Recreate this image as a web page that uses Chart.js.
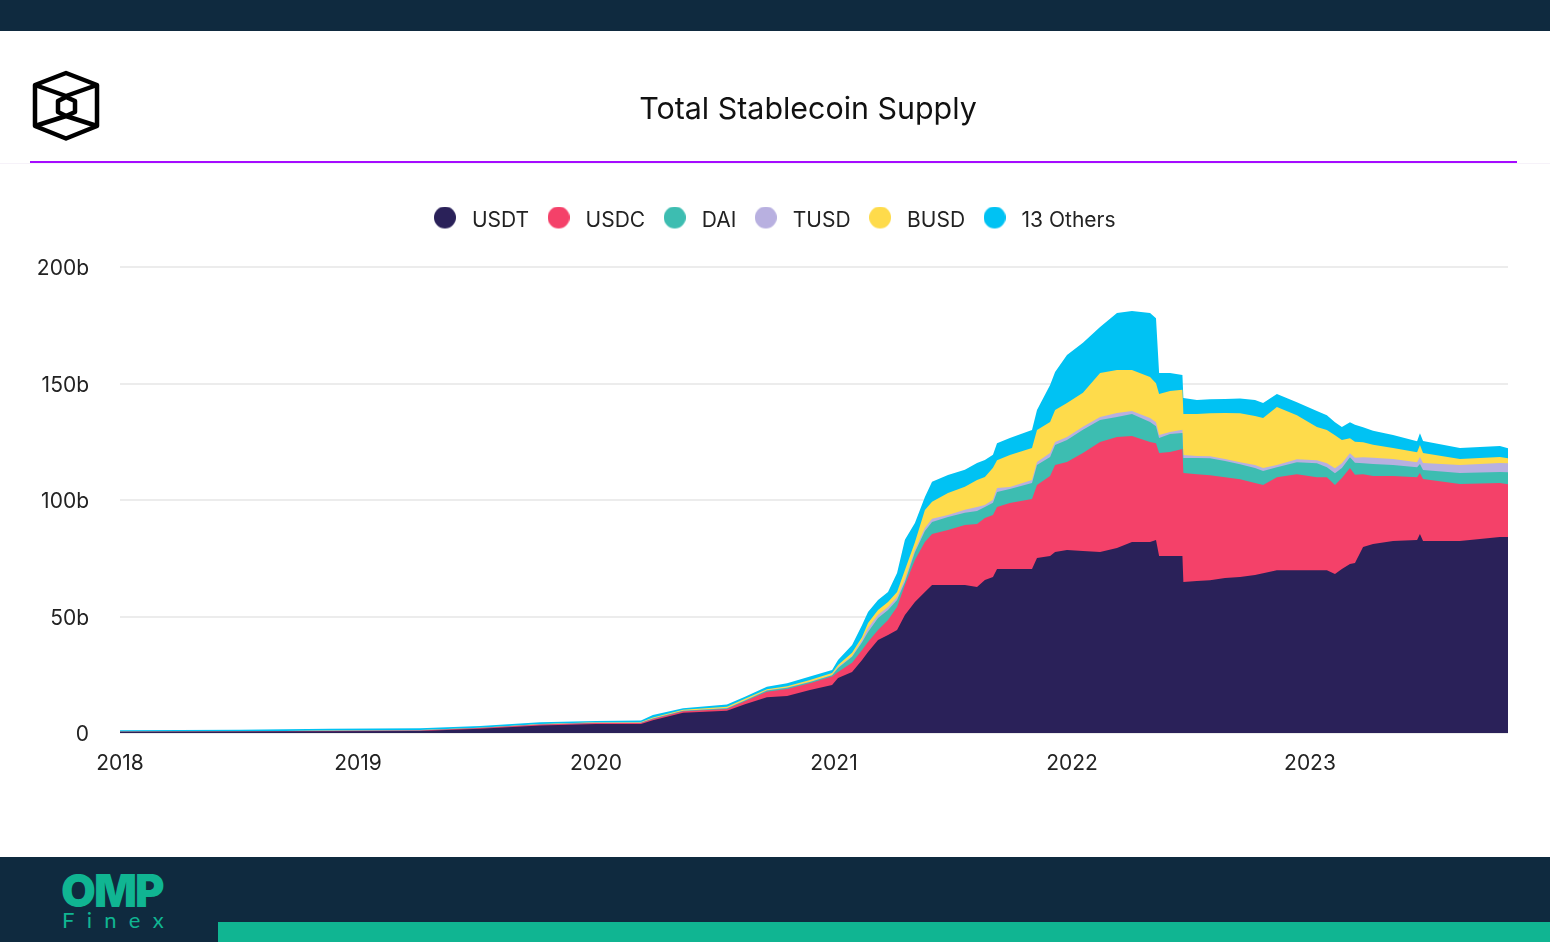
<!DOCTYPE html>
<html>
<head>
<meta charset="utf-8">
<script src="https://cdn.jsdelivr.net/npm/chart.js@4"></script>
<style>
  html, body { margin: 0; padding: 0; background: #fff; }
  #page { position: relative; width: 1550px; height: 942px; overflow: hidden; font-family: Inter, sans-serif; }
  #topBar { position: absolute; left: 0; top: 0; width: 1550px; height: 31px; background: #0f2a3f; }
  #title { position: absolute; left: 0; top: 88px; width: 1616px; text-align: center; font-size: 30.4px; line-height: 40px; color: #111; }
  #faint { position: absolute; left: 0; top: 163px; width: 1550px; height: 1px; background: #f6f2f9; }
  #rule { position: absolute; left: 30px; top: 161px; width: 1487px; height: 2px; background: #a50bff; }
  #logo { position: absolute; left: 25px; top: 64px; }
  #footer { position: absolute; left: 0; top: 857px; width: 1550px; height: 85px; background: #0f2a3f; }
  #band { position: absolute; left: 218px; top: 65px; width: 1332px; height: 20px; background: #10b592; }
  #omp { position: absolute; left: 61px; top: 7px; font-family: Inter, sans-serif; font-weight: 900; font-size: 45px; line-height: 54px; letter-spacing: -2px; color: #10b592; }
  #finex { position: absolute; left: 62px; top: 51px; font-family: Lato, sans-serif; font-weight: 400; font-size: 22px; line-height: 24px; letter-spacing: 12.3px; color: #10b592; }
  #chartWrap { position: absolute; left: 0; top: 0; width: 1550px; height: 942px; }
</style>
</head>
<body>
<div id="page">
  <div id="chartWrap"><canvas id="supplyChart" width="1550" height="942"></canvas></div>
  <div id="topBar"></div>
  <svg id="logo" width="82" height="84" viewBox="25 64 82 84" fill="none" stroke="#000" stroke-width="4.5" stroke-linejoin="round">
    <path d="M66 73 L97 85 L97 126 L66 138.5 L35 126 L35 85 Z"/>
    <path d="M35 85 L66 96 L97 85"/>
    <path d="M35 126 L66 116 L97 126"/>
    <path d="M66 97 L75 101 L75 112 L66 116 L58 112 L58 101 Z"/>
  </svg>
  <div id="title">Total Stablecoin Supply</div>
  <div id="faint"></div>
  <div id="rule"></div>
  <div id="footer">
    <div id="omp">OMP</div>
    <div id="finex">Finex</div>
    <div id="band"></div>
  </div>
</div>
<script>
// --- values, in billions ---
const dates = [2018.000, 2018.504, 2018.882, 2019.261, 2019.513, 2019.765, 2020.000, 2020.189,
  2020.239, 2020.366, 2020.550, 2020.626, 2020.718, 2020.803, 2020.899, 2020.992,
  2021.017, 2021.076, 2021.118, 2021.143, 2021.185, 2021.227, 2021.265, 2021.298,
  2021.340, 2021.382, 2021.412, 2021.479, 2021.550, 2021.601, 2021.634, 2021.668,
  2021.685, 2021.739, 2021.832, 2021.853, 2021.908, 2021.929, 2021.979, 2022.046,
  2022.118, 2022.189, 2022.252, 2022.328, 2022.353, 2022.366, 2022.412, 2022.464,
  2022.468, 2022.525, 2022.580, 2022.643, 2022.706, 2022.769, 2022.803, 2022.861,
  2022.945, 2023.029, 2023.071, 2023.105, 2023.134, 2023.168, 2023.189, 2023.223,
  2023.265, 2023.349, 2023.450, 2023.462, 2023.475, 2023.630, 2023.798, 2023.832];
const usdt = [0.5, 0.6, 0.7, 0.9, 1.8, 3.2, 3.9, 3.9,
  5.5, 8.7, 9.6, 12.3, 15.3, 15.9, 18.5, 20.6,
  23.6, 26.2, 31.3, 34.8, 39.9, 42.1, 44.2, 50.6,
  56.2, 60.5, 63.5, 63.5, 63.5, 62.7, 65.7, 67.0,
  70.4, 70.4, 70.4, 75.1, 76.0, 77.7, 78.5, 78.1,
  77.7, 79.4, 82.0, 82.0, 82.8, 76.0, 76.0, 76.0,
  64.8, 65.2, 65.6, 66.5, 66.9, 67.8, 68.6, 69.9,
  69.9, 69.9, 69.9, 68.2, 70.4, 72.5, 73.0, 79.8,
  81.1, 82.4, 82.8, 85.4, 82.4, 82.4, 84.1, 84.1];
const usdc = [0, 0.02, 0.2, 0.2, 0.3, 0.4, 0.4, 0.4,
  0.5, 0.6, 0.7, 1.3, 2.4, 3.0, 2.8, 3.6,
  2.6, 3.9, 4.3, 4.3, 4.3, 6.4, 9.9, 12.9,
  18.0, 21.5, 21.9, 23.6, 25.8, 27.0, 26.6, 26.6,
  26.6, 28.3, 30.0, 31.3, 34.3, 37.3, 37.8, 42.1,
  47.2, 47.6, 45.5, 42.9, 41.6, 44.2, 44.6, 45.9,
  46.8, 45.9, 45.0, 43.3, 42.0, 39.5, 37.8, 39.9,
  41.2, 39.9, 39.9, 38.2, 39.0, 41.2, 37.8, 31.3,
  29.2, 27.9, 27.0, 26.2, 26.6, 24.5, 23.2, 22.7];
const dai = [0.02, 0.03, 0.05, 0.1, 0.1, 0.1, 0.1, 0.1,
  0.2, 0.2, 0.3, 0.4, 0.5, 0.5, 0.6, 0.6,
  1.7, 2.6, 3.4, 4.3, 5.2, 4.3, 3.0, 1.3,
  3.4, 4.7, 5.2, 5.6, 5.2, 5.6, 4.7, 5.2,
  6.4, 6.0, 6.9, 8.6, 8.2, 8.6, 9.4, 9.9,
  9.4, 8.6, 9.4, 8.6, 7.3, 6.4, 7.7, 6.9,
  6.4, 6.9, 7.3, 6.9, 6.4, 6.4, 6.0, 4.3,
  5.1, 6.0, 4.3, 5.1, 4.3, 4.7, 5.2, 4.7,
  5.2, 4.7, 4.3, 3.9, 3.9, 4.7, 4.7, 5.1];
const tusd = [0.02, 0.03, 0.1, 0.1, 0.1, 0.1, 0.1, 0.1,
  0.1, 0.1, 0.1, 0.1, 0.1, 0.1, 0.1, 0.1,
  0.4, 0.4, 0.9, 1.7, 1.3, 1.3, 1.3, 1.3,
  0.9, 1.3, 1.3, 0.9, 1.3, 1.7, 0.9, 1.3,
  1.7, 0.9, 1.3, 1.3, 1.7, 1.3, 1.3, 1.3,
  1.3, 1.7, 1.3, 1.7, 1.7, 1.3, 0.9, 1.3,
  1.3, 0.9, 0.9, 0.9, 0.9, 1.3, 1.3, 0.9,
  1.3, 1.3, 1.7, 2.1, 2.1, 1.7, 2.1, 2.6,
  2.6, 2.6, 2.1, 3.0, 3.0, 3.4, 3.9, 3.9];
const busd = [0, 0, 0, 0, 0, 0.1, 0.1, 0.2,
  0.3, 0.4, 0.6, 0.6, 0.5, 0.6, 0.8, 0.8,
  0.9, 1.3, 1.3, 2.1, 2.1, 2.1, 2.1, 3.9,
  3.4, 7.7, 7.3, 9.4, 9.9, 11.6, 12.0, 13.7,
  12.0, 13.7, 13.7, 13.7, 13.3, 13.7, 14.6, 14.6,
  18.9, 18.5, 17.6, 17.6, 16.7, 17.6, 17.6, 17.2,
  17.6, 18.0, 18.4, 19.7, 21.0, 21.0, 21.5, 24.9,
  18.9, 14.2, 14.2, 14.2, 9.9, 6.4, 6.9, 6.4,
  5.6, 4.7, 4.3, 5.1, 4.3, 2.6, 2.6, 2.1];
const others = [0.6, 0.7, 0.8, 0.7, 0.7, 0.7, 0.6, 0.7,
  1.1, 0.6, 0.9, 0.9, 1.1, 1.3, 1.4, 1.3,
  2.1, 3.4, 5.2, 4.7, 4.3, 4.3, 8.2, 12.9,
  8.2, 5.6, 8.6, 7.7, 7.3, 7.3, 7.3, 5.6,
  7.3, 7.3, 7.7, 8.6, 15.9, 16.3, 20.6, 21.5,
  19.7, 24.5, 25.3, 27.5, 27.9, 9.0, 7.7, 6.4,
  6.9, 6.0, 6.0, 6.0, 6.4, 6.9, 6.4, 5.6,
  5.6, 6.9, 6.4, 5.6, 5.6, 6.9, 7.3, 6.4,
  6.0, 5.6, 4.7, 5.1, 5.1, 4.7, 4.7, 4.3];

const seriesNames = ['USDT', 'USDC', 'DAI', 'TUSD', 'BUSD', '13 Others'];
const seriesColors = ['#2a2159', '#f44169', '#3dbdb1', '#b8b0e0', '#fedb4b', '#00c2f3'];
const yearTicks = [2018, 2019, 2020, 2021, 2022, 2023];
const yTicks = [0, 50, 100, 150, 200];
const yTickLabels = ['0', '50b', '100b', '150b', '200b'];

const seriesValues = [usdt, usdc, dai, tusd, busd, others];

// small canvas dot for the legend, so the box can stay wider than the circle
// the canvas is taller than the dot to nudge it a bit above the text line
function legendDot(color) {
  const c = document.createElement('canvas');
  c.width = 22;
  c.height = 28;
  const g = c.getContext('2d');
  g.fillStyle = color;
  g.beginPath();
  g.arc(11, 11, 11, 0, Math.PI * 2);
  g.fill();
  return c;
}

// legend sits high up, leave room under it down to the plot top
const legendGap = {
  id: 'legendGap',
  beforeInit(chart) {
    const origFit = chart.legend.fit;
    chart.legend.fit = function () {
      origFit.bind(this)();
      this.height = 267 - 197;
    };
  }
};

const tickFont = { family: 'Inter, sans-serif', size: 21 };

new Chart(document.getElementById('supplyChart').getContext('2d'), {
  type: 'line',
  data: {
    datasets: seriesNames.map((name, i) => ({
      label: name,
      data: dates.map((d, j) => ({ x: d, y: seriesValues[i][j] })),
      backgroundColor: seriesColors[i],
      borderColor: seriesColors[i],
      borderWidth: 0,
      pointRadius: 0,
      pointStyle: legendDot(seriesColors[i]),
      tension: 0,
      fill: 'origin'
    }))
  },
  plugins: [legendGap],
  options: {
    responsive: false,
    animation: false,
    layout: { padding: { top: 197, right: 42, left: 36, bottom: 0 } },
    scales: {
      x: {
        type: 'linear',
        min: 2018,
        max: 2023.832,
        grid: { display: false },
        border: { display: false },
        afterBuildTicks: scale => { scale.ticks = yearTicks.map(v => ({ value: v })); },
        afterFit: scale => { scale.height = 942 - 733; },
        ticks: {
          color: '#222',
          font: tickFont,
          padding: 10,
          maxRotation: 0,
          autoSkip: false,
          callback: v => String(v)
        }
      },
      y: {
        stacked: true,
        min: 0,
        max: 200,
        grid: { color: '#ececec', lineWidth: 2, drawTicks: false },
        border: { display: false },
        afterBuildTicks: scale => { scale.ticks = yTicks.map(v => ({ value: v })); },
        afterFit: scale => { scale.width = 84; },
        ticks: {
          color: '#222',
          font: tickFont,
          padding: 31,
          labelOffset: 2,
          callback: v => yTickLabels[yTicks.indexOf(v)]
        }
      }
    },
    plugins: {
      tooltip: { enabled: false },
      legend: {
        position: 'top',
        align: 'center',
        labels: {
          usePointStyle: true,
          pointStyleWidth: 33,
          padding: 13,
          color: '#222',
          font: { family: 'Inter, sans-serif', size: 21 }
        }
      }
    }
  }
});
</script>
</body>
</html>
